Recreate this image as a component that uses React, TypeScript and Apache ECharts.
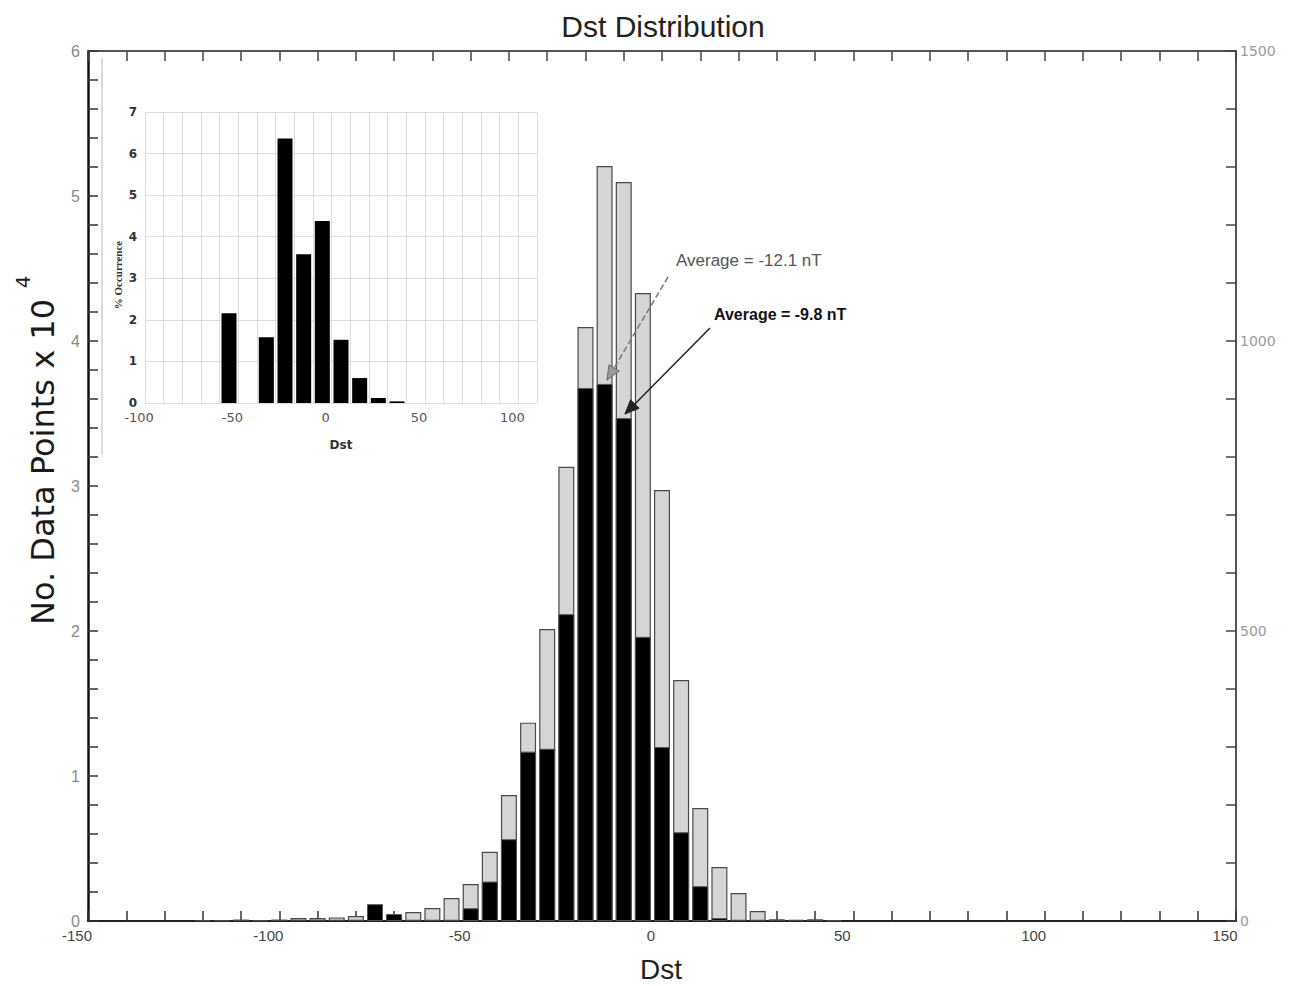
import React, { useEffect, useRef } from "react";
import * as echarts from "echarts";

// ---- Main histogram data (bin centers in nT) ----
const dstBins = [-120, -115, -110, -105, -100, -95, -90, -85, -80, -75, -70, -65, -60, -55, -50, -45, -40, -35, -30, -25, -20, -15, -10, -5, 0, 5, 10, 15, 20, 25, 30, 35, 40, 45];
// grey bars, left axis (No. Data Points x 10^4)
const greyCounts = [0.005, 0.004, 0.01, 0.005, 0.01, 0.02, 0.02, 0.025, 0.035, 0.04, 0.035, 0.062, 0.09, 0.159, 0.255, 0.478, 0.869, 1.368, 2.014, 3.133, 4.097, 5.207, 5.097, 4.331, 2.972, 1.662, 0.779, 0.372, 0.193, 0.069, 0.012, 0.008, 0.012, 0.006];
// black bars, right axis (0-1500)
const blackCounts = [null, null, null, null, null, null, null, null, null, 29, 12, null, null, null, 22, 68, 141, 292, 297, 529, 919, 926, 867, 490, 300, 153, 60, 5, null, null, null, null, null, null];

// ---- Inset data ----
const insetBins = [-55, -45, -35, -25, -15, -5, 5, 15, 25, 35];
const insetPct = [2.16, null, 1.58, 6.36, 3.58, 4.38, 1.52, 0.6, 0.12, 0.04];

// ---- Axis ticks ----
const leftTicks = [0, 1, 2, 3, 4, 5, 6];
const rightTicks = [0, 500, 1000, 1500];
const xTicks = [-150, -100, -50, 0, 50, 100, 150];

const SANS = "'Liberation Sans', Arial, sans-serif";

function arrowHead(x1: number, y1: number, x2: number, y2: number, len: number, half: number) {
  const a = Math.atan2(y2 - y1, x2 - x1);
  const bx = x2 - len * Math.cos(a);
  const by = y2 - len * Math.sin(a);
  const nx = -Math.sin(a) * half;
  const ny = Math.cos(a) * half;
  return [[x2, y2], [bx + nx, by + ny], [bx - nx, by - ny]];
}

export default function App() {
  const ref = useRef<HTMLDivElement>(null);
  useEffect(() => {
    if (!ref.current) return;
    const chart = echarts.init(ref.current, null, { renderer: "svg" });
    const a1 = { x1: 668, y1: 277, x2: 607, y2: 380 };
    const a2 = { x1: 710, y1: 328, x2: 625, y2: 414 };
    const option: any = {
      animation: false,
      backgroundColor: "#ffffff",
      title: {
        text: "Dst Distribution",
        left: 658,
        top: 6,
        textAlign: "center",
        textStyle: { fontFamily: SANS, fontSize: 30, fontWeight: "normal", color: "#222" },
      },
      grid: [
        { left: 88, top: 51, width: 1148, height: 870 },
        { left: 145, top: 112, width: 392, height: 291 },
      ],
      xAxis: [
        {
          gridIndex: 0, type: "value", min: xTicks[0], max: xTicks[xTicks.length - 1], interval: 50, position: "bottom",
          axisLine: { show: true, onZero: false, lineStyle: { color: "#222", width: 2 } },
          axisTick: { show: true, inside: true, length: 10, lineStyle: { color: "#333", width: 1.5 } },
          minorTick: { show: true, splitNumber: 5, length: 10, lineStyle: { color: "#333", width: 1.5 } },
          axisLabel: { fontFamily: SANS, fontSize: 15, color: "#444", margin: 7, padding: [0, 22, 0, 0] },
          splitLine: { show: false },
        },
        {
          gridIndex: 0, type: "value", min: -150, max: 150, interval: 50, position: "top",
          axisLine: { show: true, onZero: false, lineStyle: { color: "#555", width: 2 } },
          axisTick: { show: true, inside: true, length: 10, lineStyle: { color: "#444", width: 1.5 } },
          minorTick: { show: true, splitNumber: 5, length: 10, lineStyle: { color: "#444", width: 1.5 } },
          axisLabel: { show: false },
          splitLine: { show: false },
        },
        {
          gridIndex: 1, type: "value", min: -100, max: 110, interval: 10,
          axisLine: { show: false }, axisTick: { show: false },
          axisLabel: {
            fontFamily: "'DejaVu Sans', sans-serif", fontSize: 13, color: "#555", margin: 8, padding: [0, 12, 0, 0],
            formatter: (v: number) => (v % 50 === 0 && v <= 100 ? String(v) : ""),
          },
          splitLine: { show: true, lineStyle: { color: "#dcdcdc", width: 1 } },
        },
      ],
      yAxis: [
        {
          gridIndex: 0, type: "value", min: leftTicks[0], max: leftTicks[leftTicks.length - 1], interval: 1, position: "left",
          axisLine: { show: true, onZero: false, lineStyle: { color: "#111", width: 2.5 } },
          axisTick: { show: true, inside: true, length: 10, lineStyle: { color: "#333", width: 1.5 } },
          minorTick: { show: true, splitNumber: 5, length: 10, lineStyle: { color: "#333", width: 1.5 } },
          axisLabel: { fontFamily: SANS, fontSize: 16, color: "#8a8a8a", margin: 8 },
          splitLine: { show: false },
        },
        {
          gridIndex: 0, type: "value", min: rightTicks[0], max: rightTicks[rightTicks.length - 1], interval: 500, position: "right",
          axisLine: { show: true, onZero: false, lineStyle: { color: "#555", width: 2 } },
          axisTick: { show: true, inside: true, length: 10, lineStyle: { color: "#444", width: 1.5 } },
          minorTick: { show: true, splitNumber: 5, length: 10, lineStyle: { color: "#444", width: 1.5 } },
          axisLabel: { fontFamily: "'DejaVu Sans', sans-serif", fontSize: 14, color: "#9a9a9a", margin: 4, formatter: (v: number) => String(v) },
          splitLine: { show: false },
        },
        {
          gridIndex: 1, type: "value", min: 0, max: 7, interval: 1,
          axisLine: { show: false }, axisTick: { show: false },
          axisLabel: { fontFamily: "'DejaVu Sans', sans-serif", fontSize: 12, fontWeight: "bold", color: "#333", margin: 8 },
          splitLine: { show: true, lineStyle: { color: "#dcdcdc", width: 1 } },
        },
      ],
      series: [
        {
          type: "bar", xAxisIndex: 0, yAxisIndex: 0, barWidth: 16, barGap: "-100%",
          data: dstBins.map((b, i) => [b, greyCounts[i]]),
          itemStyle: { color: "#d5d5d5", borderColor: "#4a4a4a", borderWidth: 1.2 },
          z: 2,
        },
        {
          type: "bar", xAxisIndex: 0, yAxisIndex: 1, barWidth: 16, barGap: "-100%",
          data: dstBins.map((b, i) => [b, blackCounts[i] === null ? "-" : blackCounts[i]]),
          itemStyle: { color: "#000", borderColor: "#555", borderWidth: 1 },
          z: 3,
        },
        {
          type: "bar", xAxisIndex: 2, yAxisIndex: 2, barWidth: 15,
          data: insetBins.map((b, i) => [b, insetPct[i] === null ? "-" : insetPct[i]]),
          itemStyle: { color: "#000" },
          z: 3,
        },
      ],
      graphic: [
        { type: "line", shape: { x1: 102, y1: 58, x2: 102, y2: 455 }, style: { stroke: "#cfcfcf", lineWidth: 1.5 } },
        {
          type: "text", x: 118, y: 275, rotation: Math.PI / 2,
          style: { text: "% Occurrence", fontFamily: "'Liberation Serif', serif", fontSize: 11, fontWeight: "bold", fill: "#333", align: "center", verticalAlign: "middle" },
        },
        {
          type: "text", x: 341, y: 445,
          style: { text: "Dst", fontFamily: "'DejaVu Sans', sans-serif", fontSize: 12, fontWeight: "bold", fill: "#333", align: "center", verticalAlign: "middle" },
        },
        {
          type: "text", x: 43, y: 462, rotation: Math.PI / 2,
          style: { text: "No. Data Points x 10", fontFamily: "'DejaVu Sans', sans-serif", fontSize: 32, fill: "#1a1a1a", align: "center", verticalAlign: "middle" },
        },
        {
          type: "text", x: 23, y: 282, rotation: Math.PI / 2,
          style: { text: "4", fontFamily: "'DejaVu Sans', sans-serif", fontSize: 20, fill: "#1a1a1a", align: "center", verticalAlign: "middle" },
        },
        {
          type: "text", x: 661, y: 969,
          style: { text: "Dst", fontFamily: SANS, fontSize: 28, fill: "#222", align: "center", verticalAlign: "middle" },
        },
        {
          type: "text", x: 676, y: 260,
          style: { text: "Average = -12.1 nT", fontFamily: SANS, fontSize: 17, fill: "#555", align: "left", verticalAlign: "middle" },
        },
        {
          type: "text", x: 714, y: 314,
          style: { text: "Average = -9.8 nT", fontFamily: SANS, fontSize: 16, fontWeight: "bold", fill: "#111", align: "left", verticalAlign: "middle" },
        },
        {
          type: "line", shape: a1, style: { stroke: "#777", lineWidth: 1.5, lineDash: [6, 3] }, z: 10,
        },
        {
          type: "polygon", shape: { points: arrowHead(a1.x1, a1.y1, a1.x2, a1.y2, 14, 6) }, style: { fill: "#999", stroke: "#666", lineWidth: 1 }, z: 10,
        },
        {
          type: "line", shape: a2, style: { stroke: "#222", lineWidth: 1.5 }, z: 10,
        },
        {
          type: "polygon", shape: { points: arrowHead(a2.x1, a2.y1, a2.x2, a2.y2, 14, 6) }, style: { fill: "#222", stroke: "#222", lineWidth: 1 }, z: 10,
        },
      ],
    };
    chart.setOption(option);
    return () => chart.dispose();
  }, []);
  return <div ref={ref} style={{ position: "fixed", left: 0, top: 0, width: 1291, height: 986, background: "#fff" }} />;
}
